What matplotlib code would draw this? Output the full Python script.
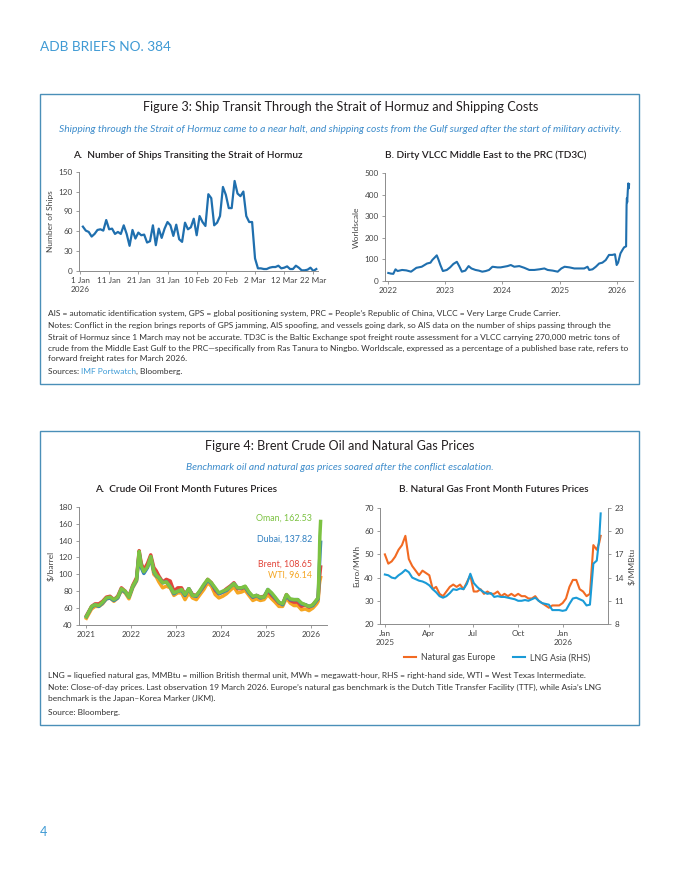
"""
ADB brief page: ship transits through Hormuz, tanker rates, oil and gas prices.
"""

import matplotlib
matplotlib.use("Agg")
import matplotlib.pyplot as plt
from matplotlib.patches import Rectangle
import pandas as pd

plt.rcParams['font.family'] = ['Lato', 'DejaVu Sans']

# ---- Figure 3A: number of ships transiting the Strait of Hormuz (daily, from 2 Jan 2026)
ship_start = "2026-01-02"
ship_counts = [67, 61, 59, 52, 56, 62, 63, 61, 77, 63,
               64, 56, 59, 56, 69, 56, 38, 62, 49, 58,
               54, 55, 43, 45, 69, 39, 64, 50, 64, 74,
               69, 53, 70, 48, 44, 73, 63, 66, 79, 54,
               83, 74, 68, 116, 110, 69, 73, 83, 127, 115,
               95, 95, 136, 117, 113, 120, 83, 74, 74, 19,
               4, 4, 3, 3, 5, 6, 6, 8, 4, 5,
               7, 3, 3, 8, 5, 1, 1, 2, 5, 0, 3]
ship_ticks = ["2026-01-01", "2026-01-11", "2026-01-21", "2026-01-31", "2026-02-10",
              "2026-02-20", "2026-03-02", "2026-03-12", "2026-03-22"]
ship_tick_labels = ["1 Jan\n2026", "11 Jan", "21 Jan", "31 Jan", "10 Feb",
                    "20 Feb", "2 Mar", "12 Mar", "22 Mar"]

# ---- Figure 3B: Dirty VLCC Middle East to PRC (TD3C), Worldscale
vlcc_dates = ["2022-01-03", "2022-01-20", "2022-02-04", "2022-02-18", "2022-03-03",
              "2022-04-01", "2022-04-28", "2022-05-28", "2022-07-01", "2022-08-04",
              "2022-09-07", "2022-09-29", "2022-10-10", "2022-10-26", "2022-11-08",
              "2022-11-20", "2022-12-01", "2022-12-17", "2023-01-11", "2023-02-01",
              "2023-02-22", "2023-03-16", "2023-03-31", "2023-04-17", "2023-05-09",
              "2023-05-30", "2023-06-17", "2023-07-13", "2023-08-03", "2023-08-25",
              "2023-09-16", "2023-10-07", "2023-10-29", "2023-11-30", "2023-12-20",
              "2024-02-02", "2024-02-23", "2024-03-16", "2024-04-17", "2024-05-19",
              "2024-06-20", "2024-07-22", "2024-08-23", "2024-09-24", "2024-10-15",
              "2024-11-16", "2024-12-18", "2025-01-10", "2025-01-31", "2025-03-03",
              "2025-04-03", "2025-05-05", "2025-06-05", "2025-06-26", "2025-07-07",
              "2025-07-28", "2025-08-18", "2025-09-08", "2025-09-29", "2025-10-20",
              "2025-11-10", "2025-12-01", "2025-12-18", "2025-12-29", "2026-01-07",
              "2026-01-22", "2026-02-06", "2026-02-14", "2026-02-27", "2026-03-02",
              "2026-03-04", "2026-03-06", "2026-03-10", "2026-03-13", "2026-03-16",
              "2026-03-18"]
vlcc_values = [36, 33, 32, 53, 45,
               50, 48, 42, 60, 65,
               80, 84, 96, 108, 118,
               96, 73, 45, 50, 62,
               78, 88, 68, 42, 47,
               68, 57, 50, 47, 42,
               45, 50, 65, 62, 62,
               68, 73, 65, 68, 60,
               50, 50, 53, 57, 50,
               47, 42, 57, 65, 62,
               57, 57, 57, 65, 50,
               53, 65, 80, 84, 96,
               120, 120, 123, 73, 84,
               127, 146, 155, 160, 350,
               384, 365, 422, 453, 430,
               448]
vlcc_years = ["2022", "2023", "2024", "2025", "2026"]

# ---- Figure 4A: crude oil front month futures, $/barrel
oil_dates = ["2021-01-04", "2021-02-15", "2021-03-15", "2021-04-15", "2021-05-15", "2021-06-15",
             "2021-07-15", "2021-08-15", "2021-09-15", "2021-10-15", "2021-11-15", "2021-12-15",
             "2022-01-15", "2022-02-15", "2022-03-08", "2022-03-25", "2022-04-15", "2022-05-15",
             "2022-06-10", "2022-07-05", "2022-07-25", "2022-08-15", "2022-09-15", "2022-10-15",
             "2022-11-15", "2022-12-15",
             "2023-01-15", "2023-02-15", "2023-03-15", "2023-04-15", "2023-05-15", "2023-06-15",
             "2023-07-15", "2023-08-15", "2023-09-15", "2023-10-15", "2023-11-15", "2023-12-15",
             "2024-01-15", "2024-02-15", "2024-03-15", "2024-04-15", "2024-05-15", "2024-06-15",
             "2024-07-15", "2024-08-15", "2024-09-15", "2024-10-15", "2024-11-15", "2024-12-15",
             "2025-01-15", "2025-02-15", "2025-03-15", "2025-04-15", "2025-05-15", "2025-06-15",
             "2025-07-15", "2025-08-15", "2025-09-15", "2025-10-15", "2025-11-15", "2025-12-15",
             "2026-01-15", "2026-02-15", "2026-02-27", "2026-03-03", "2026-03-09", "2026-03-13",
             "2026-03-19"]
brent = [51, 62, 65, 65, 68, 73, 74, 70, 74, 84, 80, 74,
         87, 96, 128, 113, 105, 113, 123, 108, 104, 98, 91, 94, 92, 80,
         84, 84, 76, 83, 76, 75, 80, 86, 94, 90, 81, 77,
         79, 83, 86, 90, 83, 83, 85, 78, 73, 75, 73, 74,
         80, 75, 71, 66, 65, 76, 69, 67, 67, 62, 64, 61,
         64, 69, 72, 82, 95, 100, 108.65]
wti = [48, 59, 62, 62, 65, 71, 72, 68, 72, 81, 78, 71,
       84, 92, 124, 111, 102, 110, 121, 100, 97, 91, 84, 86, 84, 75,
       78, 78, 70, 78, 72, 70, 76, 82, 90, 86, 76, 72,
       74, 77, 81, 85, 78, 79, 81, 75, 69, 71, 69, 70,
       76, 71, 67, 62, 62, 72, 66, 63, 63, 58, 59, 57,
       60, 65, 68, 76, 88, 92, 96.14]
dubai = [50, 61, 64, 62, 66, 71, 72, 69, 72, 82, 79, 73,
         85, 93, 125, 108, 101, 108, 120, 103, 98, 96, 90, 91, 85, 77,
         80, 81, 75, 83, 75, 74, 80, 87, 93, 89, 83, 77,
         79, 81, 85, 89, 84, 84, 85, 78, 73, 75, 72, 73,
         82, 77, 72, 67, 64, 75, 70, 70, 70, 65, 64, 62,
         63, 69, 71, 85, 108, 122, 137.82]
oman = [50, 62, 64, 63, 67, 72, 73, 70, 73, 83, 80, 73,
        86, 94, 127, 110, 103, 109, 121, 104, 99, 96, 90, 91, 85, 78,
        80, 82, 76, 83, 75, 75, 81, 88, 94, 90, 84, 78,
        80, 82, 85, 89, 84, 84, 86, 79, 74, 75, 73, 73,
        82, 78, 73, 67, 65, 76, 71, 70, 70, 66, 64, 62,
        64, 70, 72, 90, 118, 145, 162.53]
oil_years = ["2021", "2022", "2023", "2024", "2025", "2026"]

# ---- Figure 4B: natural gas front month futures (weekly from 1 Jan 2025, then last days)
gas_weekly_start = "2025-01-01"
gas_last_dates = ["2026-03-16", "2026-03-19"]
gas_europe = [50, 46, 47, 49, 52, 54, 58, 48, 45, 43,
              41, 43, 42, 41, 35, 36, 33, 32, 34, 36,
              37, 36, 37, 35, 38, 41, 34, 34, 35, 33,
              34, 33, 33, 34, 32, 33, 32, 33, 32, 33,
              32, 32, 31, 31, 32, 30, 29, 28, 27, 28,
              28, 28, 29, 31, 36, 39, 39, 35, 34, 32,
              33, 54, 52, 55, 58]
lng_asia = [14.4, 14.3, 14.0, 13.9, 14.3, 14.6, 15.0, 14.7, 14.0, 13.8,
            13.6, 13.5, 13.3, 13.0, 12.5, 12.1, 11.6, 11.4, 11.6, 12.0,
            12.5, 12.4, 12.6, 12.5, 13.2, 14.5, 13.3, 12.8, 12.4, 12.1,
            11.9, 12.0, 11.5, 11.6, 11.5, 11.5, 11.4, 11.3, 11.2, 11.0,
            11.0, 11.1, 11.0, 11.2, 11.4, 11.0, 10.7, 10.6, 10.5, 9.8,
            9.8, 9.8, 9.7, 9.8, 10.6, 11.3, 11.4, 11.2, 11.0, 10.4,
            10.5, 15.8, 16.2, 19.0, 22.3]
gas_ticks = ["2025-01-01", "2025-04-01", "2025-07-01", "2025-10-01", "2026-01-01"]
gas_tick_labels = ["Jan\n2025", "Apr", "Jul", "Oct", "Jan\n2026"]

# colours
HEAD = '#3f9ad4'
FRAME = '#4a8fb8'
SUB = '#3d8ccb'
DARK = '#231f20'
AXIS = '#8c8c8c'
TICK = '#444444'
SHIP_BLUE = '#1f6fae'
OMAN_C, DUBAI_C, BRENT_C, WTI_C = '#7cc242', '#2f7fc0', '#e2453a', '#f5a623'
EU_C, LNG_C = '#f26a22', '#1a9bd7'
TS = 5.9      # tick label size
NS = 6.05     # notes size

W, H = 680, 880
fig = plt.figure(figsize=(W / 100, H / 100), dpi=100)


def fx(x):
    return x / W


def fy(y):
    return 1 - y / H


def add_ax(left, top, right, bottom):
    return fig.add_axes([fx(left), fy(bottom), (right - left) / W, (bottom - top) / H])


def style(ax):
    for s in ['top', 'right']:
        ax.spines[s].set_visible(False)
    for s in ['left', 'bottom']:
        ax.spines[s].set_color(AXIS)
        ax.spines[s].set_linewidth(0.7)
    ax.tick_params(length=2.5, width=0.6, color=AXIS, labelsize=TS,
                   labelcolor=TICK, pad=2)
    ax.patch.set_alpha(0)


# page header and boxes
fig.text(fx(40), fy(47), "ADB BRIEFS NO. 384", color=HEAD, fontsize=9.8,
         va='center', ha='left')
fig.text(fx(40), fy(832), "4", color=HEAD, fontsize=9, va='center', ha='left')
for top, bottom in [(94, 384), (431, 725)]:
    fig.patches.append(Rectangle((fx(40), fy(bottom)), 599 / W, (bottom - top) / H,
                                 transform=fig.transFigure, fill=False,
                                 edgecolor=FRAME, linewidth=1.0))

# ---------------- Figure 3 ----------------
fig.text(fx(341), fy(107), "Figure 3: Ship Transit Through the Strait of Hormuz and Shipping Costs",
         ha='center', va='center', fontsize=9.1, color=DARK)
fig.text(fx(340), fy(129), "Shipping through the Strait of Hormuz came to a near halt, and shipping "
         "costs from the Gulf surged after the start of military activity.",
         ha='center', va='center', fontsize=7.35, color=SUB, style='italic')
fig.text(fx(188), fy(155), "A.  Number of Ships Transiting the Strait of Hormuz",
         ha='center', va='center', fontsize=7.2, color=DARK, fontweight='semibold')
fig.text(fx(486), fy(155), "B. Dirty VLCC Middle East to the PRC (TD3C)",
         ha='center', va='center', fontsize=7.2, color=DARK, fontweight='semibold')

# panel A: ships
ax = add_ax(79, 171.7, 318, 271)
style(ax)
ship_dates = pd.date_range(ship_start, periods=len(ship_counts), freq='D')
ax.plot(ship_dates, ship_counts, color=SHIP_BLUE, linewidth=1.6, solid_joinstyle='round')
ax.set_ylim(0, 150)
ax.set_yticks(range(0, 151, 30))
ax.set_xlim(pd.Timestamp("2025-12-31 16:00"), pd.Timestamp("2026-03-23 14:00"))
ax.set_xticks(pd.to_datetime(ship_ticks))
ax.set_xticklabels(ship_tick_labels, ha='center', va='top', linespacing=1.3)
ax.set_ylabel("Number of Ships", fontsize=6.0, color=TICK, labelpad=3)

# panel B: VLCC
ax = add_ax(385, 173.3, 633, 280.7)
style(ax)
ax.plot(pd.to_datetime(vlcc_dates), vlcc_values, color=SHIP_BLUE, linewidth=1.5,
        solid_joinstyle='round')
ax.set_ylim(0, 500)
ax.set_yticks(range(0, 501, 100))
ax.set_xlim(pd.Timestamp("2021-12-13"), pd.Timestamp("2026-04-12"))
ax.set_xticks(pd.to_datetime([y + "-01-01" for y in vlcc_years]))
ax.set_xticklabels(vlcc_years)
ax.set_ylabel("Worldscale", fontsize=6.0, color=TICK, labelpad=3)

notes3 = [
    (313, "AIS = automatic identification system, GPS = global positioning system, PRC = People\u2019s "
          "Republic of China, VLCC = Very Large Crude Carrier."),
    (325, "Notes: Conflict in the region brings reports of GPS jamming, AIS spoofing, and vessels going "
          "dark, so AIS data on the number of ships passing through the"),
    (337, "Strait of Hormuz since 1 March may not be accurate. TD3C is the Baltic Exchange spot freight "
          "route assessment for a VLCC carrying 270,000 metric tons of"),
    (348, "crude from the Middle East Gulf to the PRC\u2014specifically from Ras Tanura to Ningbo. "
          "Worldscale, expressed as a percentage of a published base rate, refers to"),
    (359, "forward freight rates for March 2026."),
]
for y, line in notes3:
    fig.text(fx(48), fy(y), line, ha='left', va='center', fontsize=NS, color='#333333')
t1 = fig.text(fx(48), fy(371), "Sources: ", ha='left', va='center', fontsize=NS, color='#333333')
t2 = plt.annotate("IMF Portwatch", xy=(1, 0), xycoords=t1, ha='left', va='bottom',
                  fontsize=NS, color='#3d9bd6')
plt.annotate(", Bloomberg.", xy=(1, 0), xycoords=t2, ha='left', va='bottom',
             fontsize=NS, color='#333333')

# ---------------- Figure 4 ----------------
fig.text(fx(340), fy(446), "Figure 4: Brent Crude Oil and Natural Gas Prices",
         ha='center', va='center', fontsize=9.1, color=DARK)
fig.text(fx(340), fy(467), "Benchmark oil and natural gas prices soared after the conflict escalation.",
         ha='center', va='center', fontsize=7.35, color=SUB, style='italic')
fig.text(fx(186), fy(489), "A.  Crude Oil Front Month Futures Prices",
         ha='center', va='center', fontsize=7.2, color=DARK, fontweight='semibold')
fig.text(fx(494), fy(489), "B. Natural Gas Front Month Futures Prices",
         ha='center', va='center', fontsize=7.2, color=DARK, fontweight='semibold')

# panel A: crude oil
ax = add_ax(79, 506.7, 327, 625)
style(ax)
od = pd.to_datetime(oil_dates)
series = [("WTI", wti, WTI_C), ("Brent", brent, BRENT_C),
          ("Dubai", dubai, DUBAI_C), ("Oman", oman, OMAN_C)]
for name, vals, col in series:
    ax.plot(od, vals, color=col, linewidth=2.5, solid_joinstyle='round')
for name, vals, col in series:
    ax.annotate(f"{name}, {vals[-1]:.2f}", xy=(pd.Timestamp("2026-01-08"), vals[-1]),
                xytext=(0, 2), textcoords='offset points', ha='right', va='center',
                fontsize=6.4, color=col)
ax.set_ylim(40, 180)
ax.set_yticks(range(40, 181, 20))
ax.set_xlim(pd.Timestamp("2020-11-05"), pd.Timestamp("2026-05-10"))
ax.set_xticks(pd.to_datetime([y + "-01-01" for y in oil_years]))
ax.set_xticklabels(oil_years)
ax.set_ylabel("$/barrel", fontsize=6.0, color=TICK, labelpad=3)

# panel B: natural gas
ax = add_ax(380, 508, 608, 624)
style(ax)
gd = list(pd.date_range(gas_weekly_start, periods=len(gas_europe) - len(gas_last_dates), freq='7D'))
gd += list(pd.to_datetime(gas_last_dates))
ax2 = ax.twinx()
ax2.set_position(ax.get_position())
ax.plot(gd, gas_europe, color=EU_C, linewidth=1.5, label="Natural gas Europe")
ax2.plot(gd, lng_asia, color=LNG_C, linewidth=1.5, label="LNG Asia (RHS)")
ax.set_ylim(20, 70)
ax.set_yticks(range(20, 71, 10))
ax2.set_ylim(8, 23)
ax2.set_yticks(range(8, 24, 3))
for s in ['top', 'left', 'bottom']:
    ax2.spines[s].set_visible(False)
ax2.spines['right'].set_color(AXIS)
ax2.spines['right'].set_linewidth(0.7)
ax2.tick_params(length=2.5, width=0.6, color=AXIS, labelsize=TS, labelcolor=TICK, pad=2)
ax.set_xlim(pd.Timestamp("2024-12-22"), pd.Timestamp("2026-04-03"))
ax.set_xticks(pd.to_datetime(gas_ticks))
ax.set_xticklabels(gas_tick_labels, linespacing=1.3)
ax.set_ylabel("Euro/MWh", fontsize=6.0, color=TICK, labelpad=3)
ax2.set_ylabel("$/MMBtu", fontsize=6.0, color=TICK, labelpad=3)
h1, l1 = ax.get_legend_handles_labels()
h2, l2 = ax2.get_legend_handles_labels()
fig.legend(h1 + h2, l1 + l2, loc='center', bbox_to_anchor=(fx(497), fy(658)), ncol=2,
           frameon=False, fontsize=6.4, handlelength=1.4, columnspacing=2.0,
           handletextpad=0.5, labelcolor=TICK)

notes4 = [
    (675, "LNG = liquefied natural gas, MMBtu = million British thermal unit, MWh = megawatt-hour, "
          "RHS = right-hand side, WTI = West Texas Intermediate."),
    (687, "Note: Close-of-day prices. Last observation 19 March 2026. Europe\u2019s natural gas "
          "benchmark is the Dutch Title Transfer Facility (TTF), while Asia\u2019s LNG"),
    (698, "benchmark is the Japan\u2013Korea Marker (JKM)."),
    (712, "Source: Bloomberg."),
]
for y, line in notes4:
    fig.text(fx(48), fy(y), line, ha='left', va='center', fontsize=NS, color='#333333')

fig.savefig("out.png", dpi=100)
plt.close(fig)
